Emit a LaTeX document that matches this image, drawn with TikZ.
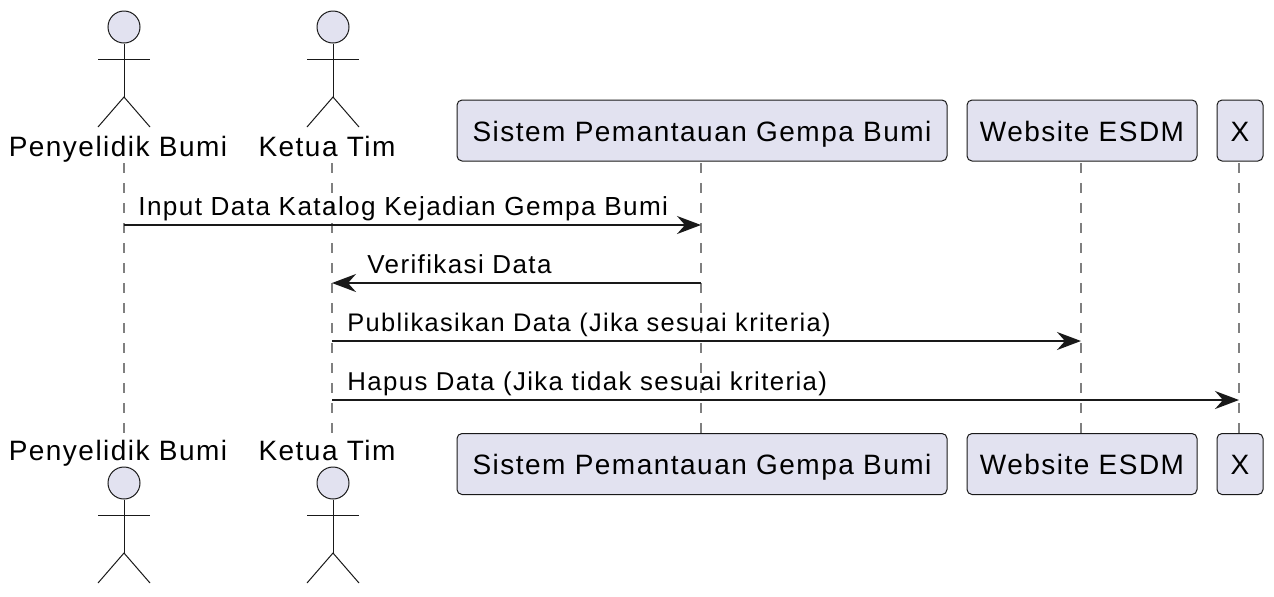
\documentclass[tikz,border=0pt]{standalone}
\usepackage{fontspec}
\setmainfont[LetterSpace=5.3]{Liberation Sans}
\usetikzlibrary{arrows.meta}
\begin{document}
\begin{tikzpicture}[
    x=0.5pt,y=-0.5pt,
    label/.style={font=\fontsize{14}{16}\selectfont,text=black,anchor=base,inner sep=0pt},
    msglabel/.style={text=black,anchor=base west,inner sep=0pt},
    boxpart/.style={draw=lineC,fill=fillC,line width=0.5pt,rounded corners=2.5pt,inner sep=0pt,
                    minimum height=30.5pt},
    head/.style={circle,draw=lineC,fill=fillC,line width=0.5pt,minimum size=16pt,inner sep=0pt},
    limb/.style={draw=lineC,line width=0.5pt},
    lifeline/.style={draw=gray,line width=1pt,dash pattern=on 5pt off 5pt},
    msg/.style={draw=lineC,line width=1pt,-{Stealth[length=12pt,width=9pt,inset=4pt]}}]
  \colorlet{lineC}{black!90}
  \definecolor{fillC}{HTML}{E2E2F0}
  \path[use as bounding box] (0,0) rectangle (1274,596);
  % lineas de vida
  \foreach \n/\x in {bumi/124,ketua/332,sistem/701,web/1081,x/1239}{
    \coordinate (\n top) at (\x,163);
    \coordinate (\n bot) at (\x,433);
    \draw[lifeline] (\n top) -- (\n bot);
  }
  % actores, arriba y abajo
  \foreach \n/\x/\lx/\txt in {bumi/124/118/{Penyelidik Bumi},ketua/333/327/{Ketua Tim}}{
    \foreach \s/\ly/\hy in {A/156/27,B/460/483}{
      \node[label] (\n label\s) at (\lx,\ly) {\txt};
      \node[head] (\n head\s) at (\x,\hy) {};
      \coordinate (\n hip\s) at (\x,\hy+70);
      \coordinate (\n armL\s) at (\x-26,\hy+32);
      \coordinate (\n armR\s) at (\x+26,\hy+32);
      \coordinate (\n legL\s) at (\x-26,\hy+100);
      \coordinate (\n legR\s) at (\x+26,\hy+100);
      \draw[limb] (\n head\s.south) -- (\n hip\s);
      \draw[limb] (\n armL\s) -- (\n armR\s);
      \draw[limb] (\n legL\s) -- (\n hip\s) -- (\n legR\s);
    }
  }
  % participantes
  \foreach \n/\x/\w/\txt in {sistem/702/245/{Sistem Pemantauan Gempa Bumi},
      web/1082/115/{Website ESDM},x/1240/23/X}{
    \node[boxpart,minimum width=\w pt] (\n boxA) at (\x,130.5) {};
    \node[boxpart,minimum width=\w pt] (\n boxB) at (\x,464) {};
    \node[label] (\n textA) at (\x,141) {\txt};
    \node[label] (\n textB) at (\x,474) {\txt};
  }
  % mensajes
  \foreach \i/\from/\to/\y/\lx/\fs/\txt in {
      1/bumi/sistem/225/138/13.07/{Input Data Katalog Kejadian Gempa Bumi},
      2/sistem/ketua/283/367/13/{Verifikasi Data},
      3/ketua/web/341/347/12.7/{Publikasikan Data (Jika sesuai kriteria)},
      4/ketua/x/400/347/12.9/{Hapus Data (Jika tidak sesuai kriteria)}}{
    \draw[msg] (\from top |- 0,\y) -- (\to top |- 0,\y);
    \node[msglabel,font=\fontsize{\fs}{15}\selectfont] (msg\i) at (\lx,\y-10) {\txt};
  }
\end{tikzpicture}
\end{document}
